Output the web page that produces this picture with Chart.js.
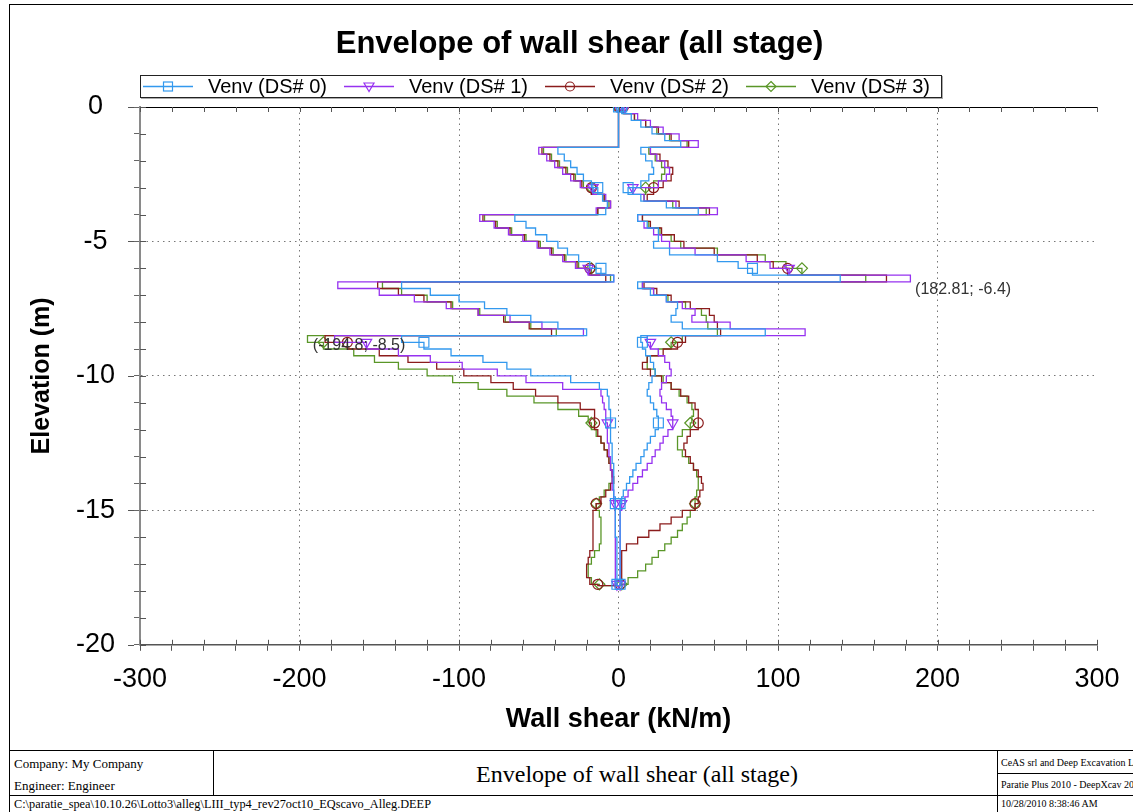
<!DOCTYPE html>
<html>
<head>
<meta charset="utf-8">
<title>Envelope of wall shear (all stage)</title>
<script src="https://cdn.jsdelivr.net/npm/chart.js@4.4.1/dist/chart.umd.min.js"></script>
<style>
body { margin: 0; background: #fff; font-family: "Liberation Sans", Arial, sans-serif; }
#page { position: relative; width: 1133px; height: 812px; overflow: hidden; background: #fff; }
.hl { position: absolute; height: 1px; background: #000; }
.vl { position: absolute; width: 1px; background: #000; }
#title { position: absolute; left: 0; top: 26px; width: 1159px; text-align: center; font-weight: bold; font-size: 31px; line-height: 33px; }
#legend { position: absolute; left: 140px; top: 75px; width: 802px; height: 23px; box-sizing: border-box; border: 1px solid #222; box-shadow: 1px 1px 0 #aaa; }
.item { position: absolute; top: 0; height: 21px; }
.item svg { position: absolute; left: 0; top: 0; }
.item span { position: absolute; left: 65px; top: 0; font-size: 20px; line-height: 21px; white-space: nowrap; }
#chartBox { position: absolute; left: 10px; top: 5px; width: 1123px; height: 745px; }
.ft { position: absolute; font-family: "Liberation Serif", "Times New Roman", serif; white-space: nowrap; color: #000; }
</style>
</head>
<body>
<div id="page">
  <div class="vl" style="left:9px; top:4px; height:808px;"></div>
  <div class="hl" style="left:9px; top:4px; width:1124px;"></div>

  <div id="chartBox"><canvas id="chart" width="1123" height="745"></canvas></div>
  <div id="title">Envelope of wall shear (all stage)</div>
  <div id="legend"></div>

  <div class="hl" style="left:9px; top:750px; width:1124px;"></div>
  <div class="hl" style="left:9px; top:795px; width:1124px;"></div>
  <div class="hl" style="left:997px; top:773px; width:136px;"></div>
  <div class="vl" style="left:213px; top:750px; height:45px;"></div>
  <div class="vl" style="left:997px; top:750px; height:62px;"></div>
  <div class="ft" style="left:14px; top:756px; font-size:13px;">Company: My Company</div>
  <div class="ft" style="left:14px; top:778px; font-size:13px;">Engineer: Engineer</div>
  <div class="ft" style="left:213px; top:761px; width:848px; text-align:center; font-size:24px;">Envelope of wall shear (all stage)</div>
  <div class="ft" style="left:14px; top:797px; font-size:12.3px;">C:\paratie_spea\10.10.26\Lotto3\alleg\LIII_typ4_rev27oct10_EQscavo_Alleg.DEEP</div>
  <div class="ft" style="left:1001px; top:757px; font-size:10px;">CeAS srl and Deep Excavation LLC</div>
  <div class="ft" style="left:1001px; top:779px; font-size:10px;">Paratie Plus 2010 - DeepXcav 2010</div>
  <div class="ft" style="left:1001px; top:798px; font-size:10px;">10/28/2010 8:38:46 AM</div>
</div>

<script>
// elevation of each node along the wall (m)
var elev = [0, -0.25, -0.5, -0.75, -1, -1.25,
  -1.5, -1.75, -2, -2.25, -2.5, -2.75, -3, -3.25, -3.5, -3.75,
  -4, -4.25, -4.5, -4.75, -5, -5.25, -5.5, -5.75, -6, -6.25,
  -6.5, -6.75, -7, -7.25, -7.5, -7.75, -8, -8.25,
  -8.5, -8.75, -9, -9.25, -9.5, -9.75, -10, -10.25, -10.5, -10.75, -11, -11.25, -11.5, -11.75,
  -12, -12.25, -12.5, -12.75, -13, -13.25, -13.5, -13.75, -14, -14.25, -14.5, -14.75,
  -15, -15.25, -15.5, -15.75, -16, -16.25, -16.5, -16.75, -17, -17.25, -17.5, -17.75,
  -17.8];

var markerElev = [0, -3, -6, -8.75, -11.75, -14.75, -17.75];

var seriesNames = ['Venv (DS# 0)', 'Venv (DS# 1)', 'Venv (DS# 2)', 'Venv (DS# 3)'];
var seriesColors = ['#3399ee', '#9632f0', '#8b1c1c', '#5a9628'];
var markerStyles = ['rect', 'triangle', 'circle', 'rectRot'];
var markerSizes = [7, 6, 5, 5.5];

// DS# 0
var ds0Min = [0, 0, 0, 0, 0, 0,
  -38, -34, -30, -26, -22, -17, -13, -10, -7, -8,
  -65, -58, -52, -45, -38, -32, -25, -18, -11, -3,
  -136, -118, -100, -84, -70, -55, -38, -20,
  -136, -122, -105, -85, -70, -55, -30, -12, -7, -6, -6, -5, -5, -5,
  -5, -5, -4, -4, -4, -3, -3, -3, -3, -3, -2, -2,
  -2, -2, -2, -2, -1, -1, -1, -1, -1, -1, -1, -1,
  0];
var ds0Max = [2, 8, 14, 21, 29, 39,
  14, 17, 21, 22, 19, 14, 6, 14, 30, 50,
  12, 18, 25, 25, 22, 32, 62, 75, 84, 139,
  12, 20, 30, 37, 36, 33, 40, 92,
  14, 15, 17, 20, 22, 23, 21, 19, 18, 20, 22, 24, 25, 25,
  23, 20, 18, 16, 14, 11, 9, 7, 5, 3, 2, 1,
  1, 1, 1, 1, 1, 1, 1, 1, 1, 1, 1, 1,
  0];

// DS# 1
var ds1Min = [0, 0, 0, 0, 0, 0,
  -50, -45, -40, -35, -30, -24, -16, -8, -5, -14,
  -87, -78, -69, -60, -51, -43, -35, -27, -19, -3,
  -176, -150, -128, -108, -88, -68, -48, -22,
  -178, -158, -138, -118, -98, -76, -58, -35, -11, -10, -9, -8, -8, -7,
  -7, -7, -6, -6, -5, -5, -4, -4, -4, -3, -3, -2,
  -2, -2, -2, -2, -2, -2, -2, -2, -2, -2, -2, -1,
  0];
var ds1Max = [4, 12, 20, 28, 38, 50,
  20, 24, 29, 32, 30, 25, 9, 16, 36, 62,
  12, 16, 22, 27, 32, 48, 80, 95, 107, 183,
  15, 22, 30, 40, 48, 46, 70, 117,
  18, 20, 25, 29, 32, 33, 30, 27, 26, 27, 30, 33, 34, 34,
  31, 28, 26, 23, 21, 18, 15, 12, 9, 6, 4, 2,
  1, 1, 1, 1, 1, 1, 1, 1, 1, 1, 1, 1,
  0];

// DS# 2
var ds2Min = [0, 0, 0, 0, 0, 0,
  -48, -43, -38, -33, -28, -23, -17, -9, -5, -13,
  -85, -77, -68, -59, -50, -42, -34, -26, -18, -8,
  -151, -138, -122, -105, -88, -72, -56, -42,
  -184, -170, -150, -132, -114, -97, -80, -66, -52, -38, -24, -15, -15, -15,
  -13, -11, -9, -7, -6, -5, -4, -3, -5, -8, -11, -14,
  -16, -16, -16, -16, -16, -16, -18, -19, -20, -20, -18, -13,
  0];
var ds2Max = [3, 10, 17, 25, 33, 44,
  20, 26, 31, 34, 33, 28, 22, 18, 38, 57,
  15, 20, 27, 35, 41, 60, 87, 97, 106, 168,
  16, 24, 33, 45, 57, 60, 62, 64,
  42, 37, 28, 18, 15, 20, 27, 33, 39, 44, 48, 50, 50, 50,
  45, 43, 41, 42, 45, 47, 50, 52, 53, 51, 50, 48,
  40, 33, 26, 19, 12, 5, 2, 2, 2, 2, 2, 1,
  0];

// DS# 3
var ds3Min = [0, 0, 0, 0, 0, 0,
  -47, -42, -37, -32, -27, -22, -17, -9, -6, -13,
  -84, -76, -67, -58, -49, -41, -33, -25, -17, -5,
  -148, -136, -120, -104, -87, -71, -55, -39,
  -195, -185, -166, -153, -138, -120, -104, -88, -70, -53, -38, -25, -19, -17,
  -14, -11, -9, -7, -6, -5, -4, -4, -6, -9, -12, -14,
  -12, -11, -11, -11, -11, -12, -15, -17, -19, -19, -17, -12,
  0];
var ds3Max = [3, 10, 17, 24, 32, 43,
  19, 23, 27, 29, 27, 22, 17, 16, 34, 55,
  15, 19, 26, 33, 39, 62, 92, 105, 115, 155,
  15, 22, 31, 42, 52, 55, 56, 62,
  40, 33, 25, 18, 18, 23, 28, 33, 38, 43, 46, 47, 46, 45,
  40, 37, 37, 40, 44, 47, 49, 50, 50, 49, 48, 48,
  45, 43, 40, 37, 33, 29, 25, 21, 17, 12, 6, 2,
  0];

// extreme values written on the plot
var peakX = [182.81, -194.8];
var peakY = [-6.4, -8.5];

var minValues = [ds0Min, ds1Min, ds2Min, ds3Min];
var maxValues = [ds0Max, ds1Max, ds2Max, ds3Max];

Chart.defaults.font.family = '"Liberation Sans", Arial, sans-serif';
Chart.defaults.color = '#000';

function toPoints(vals) {
  return vals.map(function (v, i) { return {x: v, y: elev[i]}; });
}

var datasets = [];
seriesNames.forEach(function (name, s) {
  [minValues[s], maxValues[s]].forEach(function (vals) {
    datasets.push({
      label: name,
      data: toPoints(vals),
      borderColor: seriesColors[s],
      borderWidth: 1.3,
      stepped: 'after',
      fill: false,
      pointStyle: markerStyles[s],
      pointRotation: s === 1 ? 180 : 0,
      pointRadius: function (ctx) {
        return markerElev.indexOf(elev[ctx.dataIndex]) >= 0 ? markerSizes[s] : 0;
      },
      pointHoverRadius: 0,
      pointBorderColor: seriesColors[s],
      pointBackgroundColor: 'rgba(255,255,255,0)',
      pointBorderWidth: 1.2
    });
  });
});

// legend drawn as html above the canvas
function markerSvg(s) {
  var c = seriesColors[s];
  var a = ' fill="none" stroke="' + c + '" stroke-width="1.2"';
  if (s === 0) return '<rect x="20.5" y="6" width="9" height="9"' + a + '/>';
  if (s === 1) return '<polygon points="25,15.5 20,7 30,7"' + a + '/>';
  if (s === 2) return '<circle cx="25" cy="10.5" r="4.5"' + a + '/>';
  return '<polygon points="25,5.5 30,10.5 25,15.5 20,10.5"' + a + '/>';
}
var legendBox = document.getElementById('legend');
seriesNames.forEach(function (name, s) {
  var item = document.createElement('div');
  item.className = 'item';
  item.style.left = (2 + s * 201) + 'px';
  item.innerHTML = '<svg width="52" height="21"><line x1="0" y1="10.5" x2="50" y2="10.5" stroke="' +
    seriesColors[s] + '" stroke-width="1.5"/>' + markerSvg(s) + '</svg><span>' + name + '</span>';
  legendBox.appendChild(item);
});

var innerTicks = {
  id: 'innerTicks',
  afterDraw: function (chart) {
    var ctx = chart.ctx, a = chart.chartArea, x = chart.scales.x, y = chart.scales.y;
    ctx.save();
    ctx.lineWidth = 1;
    ctx.strokeStyle = '#555';
    ctx.beginPath();
    x.ticks.forEach(function (t) {
      var p = Math.round(x.getPixelForValue(t.value)) + 0.5;
      ctx.moveTo(p, a.bottom);
      ctx.lineTo(p, a.bottom - 5);
      ctx.moveTo(p, a.top);
      ctx.lineTo(p, a.top + 5);
    });
    y.ticks.forEach(function (t) {
      var p = Math.round(y.getPixelForValue(t.value)) + 0.5;
      ctx.moveTo(a.left, p);
      ctx.lineTo(a.left + 6, p);
      if (t.value % 5 === 0) {
        ctx.moveTo(a.left - 6, p);
        ctx.lineTo(a.left - 12, p);
      }
    });
    ctx.stroke();
    ctx.restore();
  }
};

var peakLabels = {
  id: 'peakLabels',
  afterDatasetsDraw: function (chart) {
    var ctx = chart.ctx;
    ctx.save();
    ctx.font = '16px "Liberation Sans", Arial, sans-serif';
    ctx.fillStyle = '#333';
    ctx.textBaseline = 'middle';
    peakX.forEach(function (v, i) {
      var px = chart.scales.x.getPixelForValue(v);
      var py = chart.scales.y.getPixelForValue(peakY[i]);
      ctx.fillText('(' + v + '; ' + peakY[i] + ')', px + 5, py + 10.5);
    });
    ctx.restore();
  }
};

new Chart(document.getElementById('chart'), {
  type: 'line',
  data: {datasets: datasets},
  options: {
    responsive: false,
    animation: false,
    events: [],
    layout: {padding: {left: 10, right: 36, top: 102, bottom: 10}},
    plugins: {
      legend: {display: false},
      title: {display: false},
      tooltip: {enabled: false}
    },
    scales: {
      x: {
        type: 'linear',
        position: 'bottom',
        min: -300,
        max: 300,
        ticks: {
          stepSize: 20,
          autoSkip: false,
          maxRotation: 0,
          padding: 13,
          font: {size: 27},
          callback: function (v) { return v % 100 === 0 ? v : ''; }
        },
        grid: {
          color: function (c) {
            var v = c.tick.value;
            return (v % 100 === 0 && Math.abs(v) < 300) ? '#777' : 'rgba(0,0,0,0)';
          },
          tickColor: '#555',
          tickLength: 6
        },
        border: {color: '#555', width: 1.5, dash: [1.5, 4]},
        title: {
          display: true,
          text: 'Wall shear (kN/m)',
          font: {size: 27, weight: 'bold'},
          padding: {top: -5.6, bottom: 4}
        }
      },
      xTop: {
        type: 'linear',
        position: 'top',
        min: -300,
        max: 300,
        ticks: {display: false},
        grid: {display: false, drawTicks: false},
        border: {display: true, color: '#000', width: 1}
      },
      y: {
        type: 'linear',
        min: -20,
        max: 0,
        ticks: {
          stepSize: 1,
          autoSkip: false,
          crossAlign: 'center',
          padding: 19,
          font: {size: 27},
          callback: function (v) { return v % 5 === 0 ? v : ''; }
        },
        grid: {
          color: function (c) {
            var v = c.tick.value;
            return (v % 5 === 0 && v !== 0 && v !== -20) ? '#777' : 'rgba(0,0,0,0)';
          },
          tickColor: '#666',
          tickLength: 6
        },
        border: {color: '#8a8a8a', width: 2, dash: [1.5, 4]},
        title: {
          display: true,
          text: 'Elevation (m)',
          font: {size: 25, weight: 'bold'},
          padding: {top: 7, bottom: 0}
        }
      }
    }
  },
  plugins: [innerTicks, peakLabels]
});
</script>
</body>
</html>
